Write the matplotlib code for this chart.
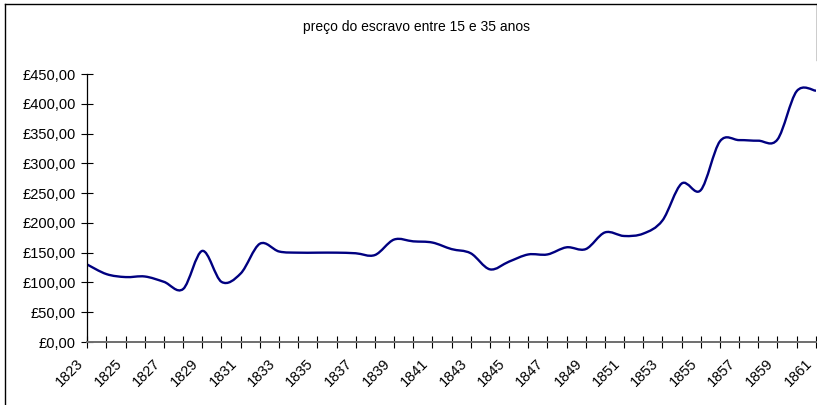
"""
Slave price (ages 15-35), 1823-1861, smoothed line in the old spreadsheet style.
"""
import numpy as np, matplotlib
matplotlib.use('Agg')
import matplotlib.pyplot as plt
from matplotlib.path import Path
from matplotlib.patches import PathPatch
from matplotlib.lines import Line2D
from matplotlib.ticker import FuncFormatter, FixedLocator
import matplotlib.transforms as mtransforms

plt.rcParams['font.family'] = ['Liberation Sans', 'DejaVu Sans']

TITLE = 'preço do escravo entre 15 e 35 anos'
years = list(range(1823, 1862))
price = [130, 114, 109, 110, 101, 89, 153, 101, 115, 165,
         152, 150, 150, 150, 149, 146, 172, 169, 167, 156,
         149, 122, 135, 147, 147, 159, 156, 184, 178, 182,
         204, 266, 255, 337, 339, 338, 340, 421, 422]
yticks = list(range(0, 451, 50))

# ── smoothed path (cubic Bezier through each point, tension 1/6) ────────
def smooth_path(x, y):
    x, y = np.asarray(x, float), np.asarray(y, float)
    xp = np.r_[x[0], x, x[-1]]
    yp = np.r_[y[0], y, y[-1]]
    verts, codes = [(x[0], y[0])], [Path.MOVETO]
    for i in range(1, len(x)):
        a, b = i, i + 1          # indices into padded arrays
        c1 = (xp[a] + (xp[b] - xp[a-1]) / 6, yp[a] + (yp[b] - yp[a-1]) / 6)
        c2 = (xp[b] - (xp[b+1] - xp[a]) / 6, yp[b] - (yp[b+1] - yp[a]) / 6)
        verts += [c1, c2, (xp[b], yp[b])]
        codes += [Path.CURVE4] * 3
    return Path(verts, codes)

W, H = 817, 405
fig = plt.figure(figsize=(W/100, H/100), dpi=100)
ax = fig.add_axes([87.3/W, 1 - 342/H, (815.8-87.3)/W, (342-74)/H])

ax.add_patch(PathPatch(smooth_path(years, price), fc='none', ec='#000080',
                       lw=1.7, capstyle='round', joinstyle='round'))
ax.set_xlim(years[0], years[-1])
ax.set_ylim(0, 450)

for s in ['top', 'right']:
    ax.spines[s].set_visible(False)
ax.spines['left'].set_color('black')
ax.spines['left'].set_linewidth(0.9)
ax.spines['bottom'].set_color('#6e6e6e')
ax.spines['bottom'].set_linewidth(1.4)

ax.set_yticks(yticks)
ax.yaxis.set_major_formatter(FuncFormatter(lambda v, p: f'£{v:.2f}'.replace('.', ',')))
ax.xaxis.set_major_locator(FixedLocator(years[::2]))
ax.xaxis.set_minor_locator(FixedLocator(years[1::2]))
ax.set_xticklabels([str(y) for y in years[::2]])

ax.tick_params(axis='y', which='major', direction='inout', length=8, width=0.8,
               labelsize=10.5, pad=4.5, colors='black')
ax.tick_params(axis='x', which='both', direction='inout', length=8, width=0.8,
               labelsize=10.5, pad=6.5, colors='black')
ax.tick_params(axis='x', which='minor', length=8)

shift = mtransforms.ScaledTranslation(-11/100, 0, fig.dpi_scale_trans)
for lab in ax.get_xticklabels():
    lab.set_rotation(45)
    lab.set_ha('right')
    lab.set_va('top')
    lab.set_rotation_mode('anchor')
    lab.set_transform(lab.get_transform() + shift)

fig.text(417/W, 1 - 27/H, TITLE, ha='center', va='center', fontsize=10)

# chart area frame
fig.add_artist(Line2D([5/W, 5/W], [0, 1 - 4/H], color='black', lw=1))
fig.add_artist(Line2D([5/W, 816.5/W], [1 - 4/H, 1 - 4/H], color='black', lw=1))
fig.add_artist(Line2D([816.5/W, 816.5/W], [1 - 60/H, 1 - 4/H], color='black', lw=1))

fig.savefig('out.png', dpi=100)
